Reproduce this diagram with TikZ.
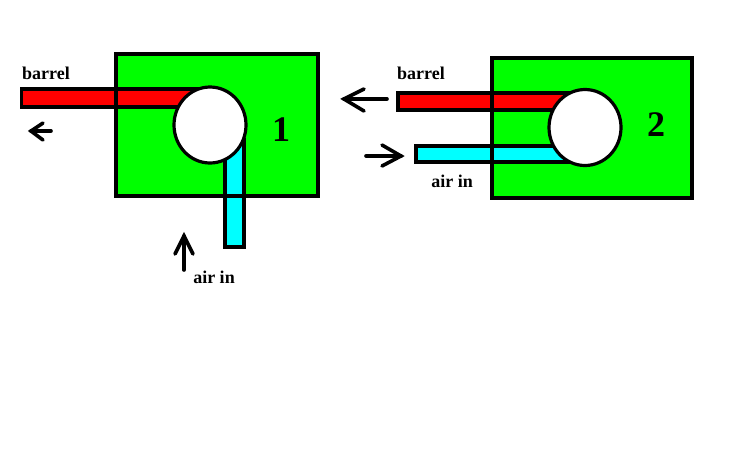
\documentclass[tikz,border=0pt]{standalone}
\usepackage{fontspec}
\setmainfont{Liberation Serif}
\tikzset{
  x=1pt,y=-1pt,
  body/.style={fill={rgb,255:red,0;green,255;blue,0},draw=none},
  outline/.style={draw=black,line width=3.4pt,line join=miter},
  barrelbar/.style={fill={rgb,255:red,255;green,0;blue,0},draw=black,line width=3.2pt},
  airbar/.style={fill={rgb,255:red,0;green,255;blue,255},draw=black,line width=3.2pt},
  bore/.style={fill=white,draw=black,line width=3.2pt},
  arrowline/.style={draw=black,line width=3.6pt,line cap=round,line join=miter},
  lbl/.style={font=\bfseries\fontsize{18}{18}\selectfont,inner sep=0pt,text=black,anchor=base},
  num/.style={font=\bfseries\fontsize{36}{36}\selectfont,inner sep=0pt,text=black,anchor=base}
}
\begin{document}
\begin{tikzpicture}
\useasboundingbox[fill=white] (0,0) rectangle (735,464);
% Cylinder 1
\fill[body] (116,54) rectangle (318,196);
\draw[barrelbar] (21.5,89) rectangle (200,107);
\draw[airbar] (225,140) rectangle (244,247);
\draw[outline] (116,54) rectangle (318,196);
\draw[bore] (210,125) ellipse [x radius=36,y radius=38];
\node[lbl] (b1) at (46,79) {barrel};
\node[lbl] (a1) at (214,283) {air in};
\node[num] (n1) at (281,141) {1};
\coordinate (p1a) at (51,131); \coordinate (p1b) at (31,131);
\coordinate (p1c) at (43,123); \coordinate (p1d) at (43,140);
\draw[arrowline] (p1a) -- (p1b);
\draw[arrowline] (p1c) -- (p1b) -- (p1d);
\coordinate (p2a) at (184,270); \coordinate (p2b) at (184,236);
\coordinate (p2c) at (175,254); \coordinate (p2d) at (193,254);
\draw[arrowline] (p2a) -- (p2b);
\draw[arrowline] (p2c) -- (p2b) -- (p2d);
% Cylinder 2
\fill[body] (492,58) rectangle (692,198);
\draw[barrelbar] (398,93) rectangle (575,110);
\draw[airbar] (416,146) rectangle (575,162);
\draw[outline] (492,58) rectangle (692,198);
\draw[bore] (585,127.5) ellipse [x radius=36,y radius=38];
\node[lbl] (b2) at (421,79) {barrel};
\node[lbl] (a2) at (452,187) {air in};
\node[num] (n2) at (656,136) {2};
\coordinate (p3a) at (387,99); \coordinate (p3b) at (344,99);
\coordinate (p3c) at (364,89); \coordinate (p3d) at (364,111);
\draw[arrowline] (p3a) -- (p3b);
\draw[arrowline] (p3c) -- (p3b) -- (p3d);
\coordinate (p4a) at (366,156); \coordinate (p4b) at (401,156);
\coordinate (p4c) at (382,145); \coordinate (p4d) at (382,166);
\draw[arrowline] (p4a) -- (p4b);
\draw[arrowline] (p4c) -- (p4b) -- (p4d);
\end{tikzpicture}
\end{document}
